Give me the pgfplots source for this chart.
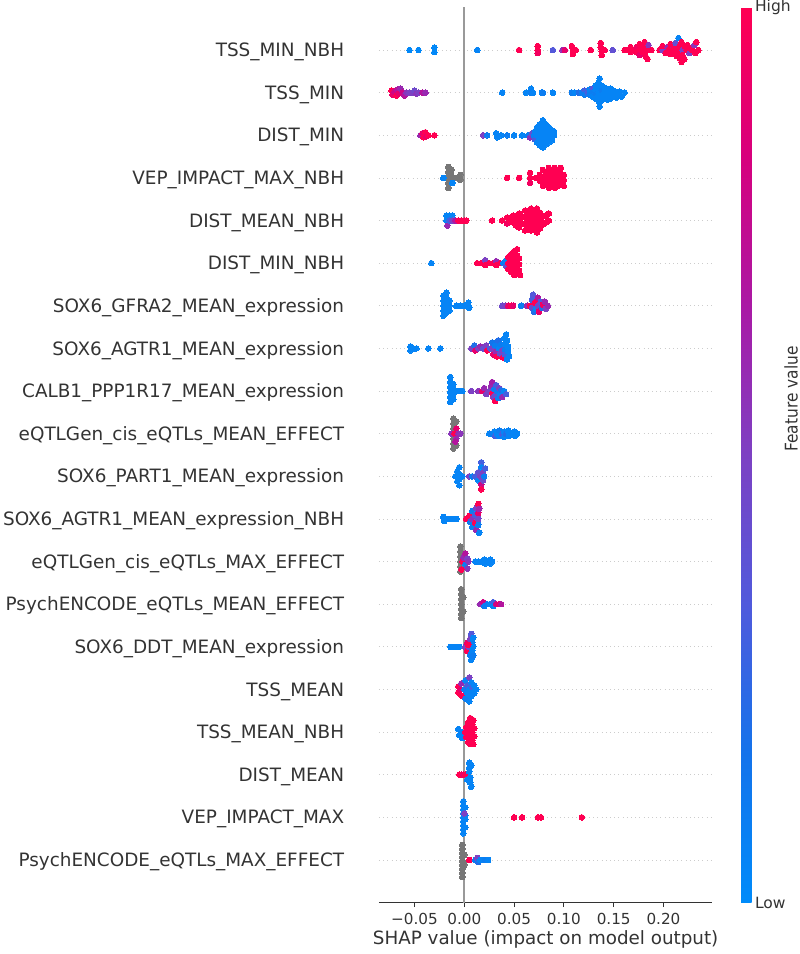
\documentclass[border=0pt]{standalone}
\usepackage{pgfplots}
\pgfplotsset{compat=1.18}
\usepackage{fontspec}
\setmainfont{DejaVu Sans}
\newfontfamily\condfont{DejaVu Sans}[FakeStretch=0.88]
\definecolor{c333}{HTML}{333333}
\definecolor{zline}{HTML}{999999}
\definecolor{gridc}{HTML}{CCCCCC}
\definecolor{nanc}{HTML}{777777}
\pgfplotsset{
 bee/.style={scatter, only marks, mark=*, mark size=2.8pt, point meta=explicit, scatter/use mapped color={draw=mapped color, fill=mapped color, line width=0pt}},
 nanbee/.style={only marks, mark=*, mark size=2.8pt, mark options={draw=nanc, fill=nanc, line width=0pt}},
}
\begin{document}
\begin{tikzpicture}
\path[use as bounding box] (0,0) rectangle (800pt,954pt);
\begin{axis}[
 at={(379pt,51.4pt)}, anchor=south west,
 scale only axis, width=333.3pt, height=895.2pt,
 xmin=-0.0856, xmax=0.249, ymin=-1, ymax=20,
 axis x line*=bottom, axis y line*=left,
 y axis line style={draw=none},
 x axis line style={c333, line width=1.1pt},
 tick align=outside, major tick length=4.5pt,
 xtick={-0.05,0,0.05,0.1,0.15,0.2},
 xticklabels={−0.05,0.00,0.05,0.10,0.15,0.20},
 xtick style={c333, line width=1.1pt},
 ytick={0,...,19},
 ytick style={draw=none},
 yticklabels={PsychENCODE\_eQTLs\_MAX\_EFFECT, VEP\_IMPACT\_MAX, DIST\_MEAN, TSS\_MEAN\_NBH, TSS\_MEAN, SOX6\_DDT\_MEAN\_expression, PsychENCODE\_eQTLs\_MEAN\_EFFECT, eQTLGen\_cis\_eQTLs\_MAX\_EFFECT, SOX6\_AGTR1\_MEAN\_expression\_NBH, SOX6\_PART1\_MEAN\_expression, eQTLGen\_cis\_eQTLs\_MEAN\_EFFECT, CALB1\_PPP1R17\_MEAN\_expression, SOX6\_AGTR1\_MEAN\_expression, SOX6\_GFRA2\_MEAN\_expression, DIST\_MIN\_NBH, DIST\_MEAN\_NBH, VEP\_IMPACT\_MAX\_NBH, DIST\_MIN, TSS\_MIN, TSS\_MIN\_NBH},
 yticklabel style={font=\fontsize{18.4}{21}\selectfont, color=c333, anchor=base east, inner sep=0pt, xshift=-30.2pt, yshift=-6.6pt},
 xticklabel style={font=\fontsize{15.2}{17}\selectfont, color=c333, anchor=base, inner sep=0pt, yshift=-17.6pt},
 xlabel={SHAP value (impact on model output)},
 xlabel style={font=\fontsize{18.3}{21}\selectfont, color=c333, at={(axis description cs:0.5,0)}, anchor=base, inner sep=0pt, yshift=-41.6pt},
 ymajorgrids, major grid style={gridc, line width=0.7pt, dash pattern=on 0.7pt off 3.5pt},
 colormap={shap}{rgb255=(0,139,250) rgb255=(20,115,235) rgb255=(80,90,220) rgb255=(125,65,195) rgb255=(170,25,165) rgb255=(215,0,125) rgb255=(255,0,82)},
 point meta min=0, point meta max=1,
 colorbar,
 colorbar style={width=10.3pt, at={(parent axis.north east)}, anchor=north west, xshift=20.4pt,
   ytick={0,1}, yticklabels={Low,High}, major tick length=0pt, ytick style={draw=none},
   yticklabel style={font=\fontsize{15.5}{17}\selectfont, color=c333},
   axis line style={draw=none}},
]
\addplot[zline, line width=2pt, forget plot] coordinates {(0,-1) (0,20)};
% row 19 TSS_MIN_NBH
\addplot[bee] table[x=x, y expr=19-\thisrow{d}/42.63, meta=c, row sep=\\] {x d c\\
-0.055 0 0.02\\ -0.046 0 0.02\\ -0.030 -2.5 0.02\\ -0.030 2 0.02\\ 0.013 0 0.05\\ 0.055 0 1\\
0.0737 -4 1\\ 0.0737 0 1\\ 0.0737 3 0.95\\ 0.089 0 0.35\\ 0.0985 0 0.6\\ 0.101 0 0.9\\
0.108 -4 1\\ 0.109 0 1\\ 0.109 4 1\\ 0.112 0 1\\ 0.127 0 1\\ 0.137 -7 1\\ 0.137 -3 1\\ 0.138 1 1\\ 0.138 5 1\\ 0.141 0 1\\ 0.149 0 0.4\\
0.161 0 1\\ 0.164 0 1\\ 0.167 -3 1\\ 0.167 2 1\\ 0.170 0 1\\ 0.173 -3 0.95\\ 0.173 2 1\\ 0.176 -6 1\\ 0.176 0 1\\ 0.176 5 0.9\\
0.179 -3 1\\ 0.179 2 1\\ 0.181 -8 1\\ 0.182 -3 1\\ 0.182 2 1\\ 0.182 6 1\\ 0.184 9 1\\ 0.185 0 1\\ 0.185 -5 0.55\\ 0.188 0 1\\
0.196 0 1\\ 0.199 0 0.5\\ 0.199 -4 1\\ 0.202 3 1\\ 0.204 -3 0.6\\ 0.205 0 1\\ 0.207 -6 1\\ 0.207 4 1\\ 0.210 -2 1\\ 0.210 3 1\\
0.212 -7 0.4\\ 0.213 0 1\\ 0.213 6 1\\ 0.215 -12 0.05\\ 0.216 -4 1\\ 0.216 2 1\\ 0.216 8 1\\ 0.218 -8 1\\ 0.218 12 1\\ 0.219 0 0.5\\
0.219 5 1\\ 0.221 -4 1\\ 0.221 9 1\\ 0.223 0 1\\ 0.224 -5 1\\ 0.226 3 0.5\\ 0.227 -2 1\\ 0.229 0 1\\ 0.231 -5 0.55\\ 0.232 3 1\\ 0.233 -8 1\\ 0.235 0 1\\
};
% row 18 TSS_MIN
\addplot[bee] table[x=x, y expr=18-\thisrow{d}/42.63, meta=c, row sep=\\] {x d c\\
-0.073 -2 1\\ -0.072 2 0.9\\ -0.070 -1 0.8\\ -0.068 3 1\\ -0.067 -3 0.7\\ -0.066 1 0.9\\ -0.064 -4 0.6\\ -0.062 0 0.8\\ -0.060 3 0.7\\
-0.058 0 0.55\\ -0.055 0 0.5\\ -0.052 0 0.5\\ -0.050 -2 0.45\\ -0.048 1 0.55\\ -0.046 0 0.5\\ -0.042 0 0.7\\ -0.039 0 0.6\\
0.038 0 0.05\\ 0.062 0 0.05\\ 0.067 -4 0.05\\ 0.067 0 0.1\\ 0.069 0 0.05\\ 0.078 0 0.05\\ 0.079 0 0.1\\ 0.089 0 0.05\\
0.108 0 0.1\\ 0.111 0 0.05\\ 0.115 0 0.2\\ 0.118 0 0.1\\ 0.121 -2 0.3\\ 0.121 2 0.1\\ 0.124 0 0.3\\ 0.126 -3 0.05\\ 0.126 2 0.1\\
0.129 -4 0.35\\ 0.129 0 0.1\\ 0.129 4 0.05\\ 0.132 -7 0.05\\ 0.132 -2 0.05\\ 0.132 2 0.1\\ 0.132 6 0.05\\ 0.135 -10 0.05\\ 0.135 -5 0.05\\
0.135 0 0.05\\ 0.135 5 0.05\\ 0.135 9 0.05\\ 0.136 -14 0.05\\ 0.136 14 0.05\\ 0.138 -7 0.05\\ 0.138 -2 0.1\\ 0.138 3 0.05\\ 0.138 8 0.05\\
0.141 -5 0.05\\ 0.141 0 0.05\\ 0.141 5 0.05\\ 0.144 -3 0.05\\ 0.144 2 0.05\\ 0.144 7 0.05\\ 0.147 -4 0.05\\ 0.147 1 0.05\\ 0.147 6 0.05\\
0.150 -2 0.05\\ 0.150 3 0.05\\ 0.153 0 0.05\\ 0.153 5 0.05\\ 0.156 -1 0.05\\ 0.158 4 0.05\\ 0.161 0 0.05\\
};
% row 17 DIST_MIN
\addplot[bee] table[x=x, y expr=17-\thisrow{d}/42.63, meta=c, row sep=\\] {x d c\\
-0.044 0 0.6\\ -0.042 -2 0.9\\ -0.041 2 1\\ -0.039 -3 1\\ -0.038 1 0.9\\ -0.036 0 1\\ -0.030 0 1\\
0.019 0 0.5\\ 0.023 0 0.1\\ 0.032 -2 0.05\\ 0.033 2 0.05\\ 0.037 0 0.05\\ 0.043 0 0.1\\ 0.050 0 0.05\\ 0.058 0 0.05\\ 0.064 0 0.1\\
0.066 2 0.55\\ 0.068 -2 0.4\\ 0.070 0 0.05\\ 0.071 -4 0.05\\ 0.071 4 0.3\\ 0.073 -8 0.05\\ 0.073 0 0.05\\ 0.073 7 0.05\\
0.076 -11 0.05\\ 0.076 -5 0.05\\ 0.076 0 0.05\\ 0.076 5 0.05\\ 0.076 10 0.05\\ 0.079 -15 0.05\\ 0.079 -8 0.05\\ 0.079 -3 0.05\\
0.079 2 0.05\\ 0.079 7 0.05\\ 0.079 12 0.05\\ 0.082 -11 0.05\\ 0.082 -5 0.05\\ 0.082 0 0.05\\ 0.082 5 0.05\\ 0.082 9 0.05\\
0.085 -8 0.05\\ 0.085 -3 0.05\\ 0.085 2 0.05\\ 0.085 7 0.05\\ 0.088 -5 0.05\\ 0.088 0 0.05\\ 0.088 5 0.05\\ 0.090 0 0.05\\ 0.090 -4 0.05\\
};
% row 16 VEP_IMPACT_MAX_NBH
\addplot[nanbee] table[x=x, y expr=16-\thisrow{d}/42.63, row sep=\\] {x d\\
-0.016 -11\\ -0.016 -6\\ -0.016 0\\ -0.016 5\\ -0.016 10\\ -0.013 -8\\ -0.013 -2\\ -0.013 3\\ -0.010 0\\ -0.004 -3\\ -0.004 2\\
};
\addplot[bee] table[x=x, y expr=16-\thisrow{d}/42.63, meta=c, row sep=\\] {x d c\\
-0.021 0 0.05\\ -0.012 5 0.05\\
0.043 0 1\\ 0.055 0 1\\ 0.066 -5 1\\ 0.066 0 1\\ 0.066 5 0.95\\ 0.072 0 1\\ 0.076 -3 1\\ 0.076 3 1\\ 0.079 -8 1\\ 0.079 0 1\\ 0.079 8 1\\
0.082 -4 1\\ 0.082 4 1\\ 0.085 -10 1\\ 0.085 -5 1\\ 0.085 0 1\\ 0.085 5 1\\ 0.085 10 1\\ 0.088 -8 1\\ 0.088 -3 1\\ 0.088 2 1\\ 0.088 7 1\\
0.091 -10 1\\ 0.091 -5 1\\ 0.091 0 1\\ 0.091 5 1\\ 0.091 10 1\\ 0.094 -7 1\\ 0.094 -2 1\\ 0.094 3 1\\ 0.094 8 1\\
0.097 -10 1\\ 0.097 -4 1\\ 0.097 1 1\\ 0.097 6 1\\ 0.100 -3 1\\ 0.100 2 1\\ 0.100 8 1\\
};
% row 15 DIST_MEAN_NBH
\addplot[bee] table[x=x, y expr=15-\thisrow{d}/42.63, meta=c, row sep=\\] {x d c\\
-0.018 -5 0.05\\ -0.018 0 0.05\\ -0.017 5 0.6\\ -0.015 -5 0.05\\ -0.015 0 0.3\\ -0.012 -5 0.05\\ -0.012 0 0.5\\ -0.009 0 0.7\\ -0.006 0 1\\ -0.003 0 1\\ 0.000 0 1\\ 0.002 0 1\\
0.028 0 1\\ 0.038 0 1\\ 0.043 -3 1\\ 0.043 3 0.95\\ 0.046 0 1\\ 0.049 -5 1\\ 0.049 2 1\\ 0.052 -2 1\\ 0.052 5 1\\ 0.055 -7 1\\ 0.055 0 1\\ 0.055 7 1\\
0.058 -4 1\\ 0.058 3 1\\ 0.061 -10 1\\ 0.061 -3 1\\ 0.061 4 1\\ 0.061 10 1\\ 0.064 -7 1\\ 0.064 0 1\\ 0.064 7 1\\ 0.067 -12 1\\ 0.067 -4 1\\ 0.067 3 1\\ 0.067 10 1\\
0.070 -8 1\\ 0.070 0 1\\ 0.070 8 1\\ 0.073 -12 1\\ 0.073 -4 1\\ 0.073 4 1\\ 0.073 12 1\\ 0.076 -8 1\\ 0.076 0 1\\ 0.076 8 1\\ 0.079 -4 1\\ 0.079 4 1\\
0.082 -5 1\\ 0.082 2 1\\ 0.085 0 1\\ 0.085 -7 1\\
};
% row 14 DIST_MIN_NBH
\addplot[bee] table[x=x, y expr=14-\thisrow{d}/42.63, meta=c, row sep=\\] {x d c\\
-0.033 0 0.05\\ 0.013 0 1\\ 0.017 0 1\\ 0.021 -3 0.5\\ 0.021 2 1\\ 0.025 0 1\\ 0.029 0 1\\ 0.032 -2 0.6\\ 0.032 2 1\\ 0.036 0 1\\
0.039 0 0.1\\ 0.042 -3 0.05\\ 0.042 3 0.4\\ 0.044 -6 1\\ 0.044 0 1\\ 0.044 6 1\\ 0.047 -9 1\\ 0.047 -3 1\\ 0.047 3 1\\ 0.047 9 1\\
0.050 -12 1\\ 0.050 -6 1\\ 0.050 0 1\\ 0.050 6 1\\ 0.050 12 1\\ 0.053 -14 1\\ 0.053 -8 1\\ 0.053 -2 1\\ 0.053 4 1\\ 0.053 10 1\\
0.055 -5 1\\ 0.055 1 1\\ 0.055 7 1\\ 0.056 12 1\\
};
% row 13 SOX6_GFRA2_MEAN_expression
\addplot[bee] table[x=x, y expr=13-\thisrow{d}/42.63, meta=c, row sep=\\] {x d c\\
-0.021 -10 0.05\\ -0.021 -5 0.05\\ -0.021 0 0.05\\ -0.021 5 0.05\\ -0.021 10 0.05\\ -0.018 -13 0.05\\ -0.018 -8 0.05\\ -0.018 -3 0.05\\ -0.018 2 0.05\\ -0.018 7 0.05\\
-0.015 -5 0.05\\ -0.015 0 0.05\\ -0.015 5 0.05\\ -0.008 0 0.05\\ -0.004 0 0.05\\ 0.000 0 0.05\\ 0.004 -3 0.05\\ 0.005 2 0.05\\
0.038 0 0.45\\ 0.041 0 0.5\\ 0.044 0 0.9\\ 0.047 0 1\\ 0.049 0 0.9\\ 0.057 0 0.1\\ 0.063 0 0.6\\ 0.066 0 1\\ 0.068 -6 0.3\\ 0.068 2 0.45\\
0.069 -11 0.35\\ 0.070 6 0.2\\ 0.071 -3 1\\ 0.072 3 0.05\\ 0.074 -8 0.7\\ 0.074 0 0.45\\ 0.075 6 0.9\\ 0.077 -4 0.35\\ 0.078 2 0.2\\ 0.079 -1 0.95\\
0.081 -4 0.6\\ 0.082 3 0.5\\ 0.084 0 0.6\\
};
% row 12 SOX6_AGTR1_MEAN_expression
\addplot[bee] table[x=x, y expr=12-\thisrow{d}/42.63, meta=c, row sep=\\] {x d c\\
-0.054 -2 0.05\\ -0.054 2 0.05\\ -0.051 0 0.05\\ -0.048 0 0.05\\ -0.036 0 0.05\\ -0.024 0 0.05\\
0.007 0 0.5\\ 0.010 -3 0.2\\ 0.011 2 0.9\\ 0.014 0 0.5\\ 0.016 -2 0.6\\ 0.019 0 0.4\\ 0.022 -3 0.5\\ 0.023 2 1\\ 0.026 0 0.3\\
0.028 -6 0.15\\ 0.028 0 0.5\\ 0.029 6 0.9\\ 0.031 -3 0.1\\ 0.032 3 0.6\\ 0.033 8 1\\ 0.034 -8 0.2\\ 0.035 0 0.05\\ 0.036 5 0.4\\
0.037 -4 0.1\\ 0.038 2 0.5\\ 0.039 9 1\\ 0.040 -10 0.05\\ 0.041 -4 0.05\\ 0.041 1 0.1\\ 0.041 6 0.3\\ 0.042 -14 0.05\\ 0.043 -8 0.05\\
0.043 11 0.05\\ 0.044 -2 0.05\\ 0.044 3 0.05\\ 0.045 8 0.05\\
};
% row 11 CALB1_PPP1R17_MEAN_expression
\addplot[bee] table[x=x, y expr=11-\thisrow{d}/42.63, meta=c, row sep=\\] {x d c\\
-0.014 -14 0.05\\ -0.014 -9 0.05\\ -0.014 -4 0.05\\ -0.014 1 0.05\\ -0.014 6 0.05\\ -0.014 11 0.05\\ -0.011 -7 0.05\\ -0.011 -2 0.05\\
-0.011 3 0.05\\ -0.011 8 0.05\\ -0.008 0 0.05\\ -0.005 0 0.05\\ -0.002 0 0.05\\ 0.007 0 0.5\\ 0.014 0 0.55\\
0.018 0 0.9\\ 0.020 -3 0.6\\ 0.022 3 0.5\\ 0.025 0 0.5\\ 0.027 -5 0.6\\ 0.028 -9 0.65\\ 0.028 2 1\\ 0.029 6 0.5\\ 0.030 -2 0.1\\
0.031 10 1\\ 0.031 4 0.4\\ 0.032 -6 0.3\\ 0.033 0 0.1\\ 0.034 7 0.1\\ 0.035 -3 0.5\\ 0.036 3 0.05\\ 0.037 -1 0.2\\ 0.038 6 0.6\\
0.040 0 0.05\\ 0.042 3 0.3\\
};
% row 10 eQTLGen_cis_eQTLs_MEAN_EFFECT
\addplot[nanbee] table[x=x, y expr=10-\thisrow{d}/42.63, row sep=\\] {x d\\
-0.011 -15\\ -0.011 -10\\ -0.011 -5\\ -0.011 5\\ -0.011 10\\ -0.011 15\\ -0.008 -12\\ -0.008 12\\
};
\addplot[bee] table[x=x, y expr=10-\thisrow{d}/42.63, meta=c, row sep=\\] {x d c\\
-0.013 0 0.55\\ -0.010 0 1\\ -0.008 -5 0.9\\ -0.008 5 0.6\\ -0.006 0 0.6\\ -0.004 0 0.55\\ -0.009 8 0.7\\
0.025 0 0.05\\ 0.028 0 0.1\\ 0.030 -2 0.05\\ 0.031 2 0.3\\ 0.033 0 0.05\\ 0.035 -3 0.1\\ 0.035 2 0.05\\ 0.038 0 0.3\\ 0.040 -2 0.05\\
0.040 3 0.05\\ 0.042 0 0.2\\ 0.044 -3 0.05\\ 0.045 2 0.05\\ 0.047 0 0.05\\ 0.050 -2 0.05\\ 0.051 2 0.05\\ 0.053 0 0.05\\
};
% row 9 SOX6_PART1_MEAN_expression
\addplot[bee] table[x=x, y expr=9-\thisrow{d}/42.63, meta=c, row sep=\\] {x d c\\
-0.009 0 0.05\\ -0.007 -5 0.05\\ -0.007 5 0.05\\ -0.005 -9 0.05\\ -0.005 -2 0.05\\ -0.005 3 0.05\\ -0.005 9 0.05\\ -0.002 0 0.05\\
0.005 0 0.5\\ 0.008 0 0.1\\ 0.011 0 0.3\\ 0.014 -4 0.4\\ 0.014 4 0.05\\ 0.016 0 0.5\\ 0.017 -14 0.3\\ 0.017 -9 0.05\\ 0.017 8 0.8\\
0.017 13 1\\ 0.019 -4 0.5\\ 0.019 4 0.45\\ 0.020 0 0.1\\ 0.021 -8 0.3\\
};
% row 8 SOX6_AGTR1_MEAN_expression_NBH
\addplot[bee] table[x=x, y expr=8-\thisrow{d}/42.63, meta=c, row sep=\\] {x d c\\
-0.021 -2 0.05\\ -0.020 2 0.05\\ -0.018 0 0.05\\ -0.015 0 0.05\\ -0.012 0 0.05\\ -0.008 0 0.05\\
0.002 0 1\\ 0.005 -3 1\\ 0.006 3 0.1\\ 0.008 -8 0.1\\ 0.008 0 0.55\\ 0.008 8 0.1\\ 0.011 -4 0.3\\ 0.011 4 1\\ 0.012 -11 0.5\\
0.012 11 0.6\\ 0.014 -15 1\\ 0.014 -6 0.9\\ 0.014 0 0.45\\ 0.014 6 0.1\\ 0.015 14 0.05\\ 0.015 -10 0.6\\
};
% row 7 eQTLGen_cis_eQTLs_MAX_EFFECT
\addplot[nanbee] table[x=x, y expr=7-\thisrow{d}/42.63, row sep=\\] {x d\\
-0.004 -15\\ -0.004 -10\\ -0.004 -5\\ -0.004 0\\ -0.004 5\\ -0.004 10\\
};
\addplot[bee] table[x=x, y expr=7-\thisrow{d}/42.63, meta=c, row sep=\\] {x d c\\
-0.002 0 1\\ -0.001 -4 0.6\\ 0.001 3 0.1\\ 0.001 -8 0.7\\ 0.003 7 0.55\\ 0.003 -3 0.5\\ 0.004 0 0.55\\ -0.003 8 1\\
0.011 0 0.05\\ 0.014 0 0.05\\ 0.017 0 0.05\\ 0.020 -2 0.05\\ 0.021 2 0.05\\ 0.023 0 0.05\\ 0.026 -2 0.05\\ 0.026 2 0.05\\ 0.028 0 0.05\\
};
% row 6 PsychENCODE_eQTLs_MEAN_EFFECT
\addplot[nanbee] table[x=x, y expr=6-\thisrow{d}/42.63, row sep=\\] {x d\\
-0.003 -15\\ -0.003 -10\\ -0.003 -5\\ -0.003 0\\ -0.003 5\\ -0.003 10\\ -0.003 14\\ -0.001 -7\\ -0.001 7\\
};
\addplot[bee] table[x=x, y expr=6-\thisrow{d}/42.63, meta=c, row sep=\\] {x d c\\
0.016 0 0.6\\ 0.019 -2 0.8\\ 0.020 2 0.1\\ 0.023 0 0.1\\ 0.026 0 0.05\\ 0.029 -2 0.3\\ 0.029 2 0.05\\ 0.032 0 0.8\\ 0.035 0 0.9\\ 0.037 0 0.7\\
};
% row 5 SOX6_DDT_MEAN_expression
\addplot[bee] table[x=x, y expr=5-\thisrow{d}/42.63, meta=c, row sep=\\] {x d c\\
-0.014 0 0.05\\ -0.011 0 0.05\\ -0.008 0 0.05\\ -0.005 0 0.05\\
0.001 0 0.5\\ 0.003 -4 0.9\\ 0.003 4 1\\ 0.005 0 0.4\\ 0.006 -8 0.5\\ 0.006 8 0.1\\ 0.007 -13 0.35\\ 0.007 13 0.05\\ 0.008 -4 0.1\\
0.008 4 0.05\\ 0.009 0 0.05\\ 0.009 -9 0.05\\ 0.009 9 0.1\\ 0.004 -2 1\\
};
% row 4 TSS_MEAN
\addplot[bee] table[x=x, y expr=4-\thisrow{d}/42.63, meta=c, row sep=\\] {x d c\\
-0.006 -3 1\\ -0.006 3 1\\ -0.004 0 0.9\\ -0.003 -6 0.6\\ -0.003 6 1\\ 0.000 0 0.1\\ 0.001 -9 0.05\\ 0.001 9 0.1\\ 0.003 -4 0.3\\
0.003 4 0.05\\ 0.005 -12 0.5\\ 0.005 0 0.05\\ 0.005 12 0.05\\ 0.007 -7 0.05\\ 0.007 7 0.05\\ 0.008 -2 0.3\\ 0.008 3 0.05\\
0.010 -4 0.05\\ 0.010 4 0.05\\ 0.012 0 0.05\\
};
% row 3 TSS_MEAN_NBH
\addplot[bee] table[x=x, y expr=3-\thisrow{d}/42.63, meta=c, row sep=\\] {x d c\\
-0.006 -3 0.05\\ -0.005 3 0.05\\ -0.003 0 0.05\\ -0.002 6 0.05\\ 0.001 0 1\\ 0.002 -5 1\\ 0.002 5 1\\ 0.004 -10 1\\ 0.004 0 1\\
0.004 10 1\\ 0.006 -14 1\\ 0.006 -5 1\\ 0.006 5 1\\ 0.006 12 1\\ 0.008 -8 1\\ 0.008 0 1\\ 0.008 8 1\\ 0.010 -4 1\\ 0.010 4 1\\
0.009 -12 1\\ 0.009 12 1\\
};
% row 2 DIST_MEAN
\addplot[bee] table[x=x, y expr=2-\thisrow{d}/42.63, meta=c, row sep=\\] {x d c\\
-0.005 0 1\\ -0.003 0 1\\ -0.001 0 0.9\\ 0.001 0 1\\ 0.003 0 1\\ 0.005 -12 0.05\\ 0.005 -7 0.05\\ 0.005 -3 0.05\\ 0.006 3 0.05\\
0.006 8 0.05\\ 0.007 12 0.05\\ 0.007 -9 0.05\\ 0.003 5 0.05\\
};
% row 1 VEP_IMPACT_MAX
\addplot[bee] table[x=x, y expr=1-\thisrow{d}/42.63, meta=c, row sep=\\] {x d c\\
-0.001 -16 0.05\\ -0.001 -12 0.05\\ -0.001 -8 0.05\\ -0.001 -4 0.05\\ -0.001 0 0.05\\ -0.001 4 0.05\\ -0.001 8 0.05\\ -0.001 12 0.05\\
-0.001 16 0.05\\ 0.001 -10 0.05\\ 0.001 10 0.05\\ 0.001 -2 0.05\\ 0.001 2 0.05\\ 0.000 -4 0.5\\
0.050 0 1\\ 0.058 0 1\\ 0.074 0 1\\ 0.077 0 1\\ 0.118 0 1\\
};
% row 0 PsychENCODE_eQTLs_MAX_EFFECT
\addplot[nanbee] table[x=x, y expr=0-\thisrow{d}/42.63, row sep=\\] {x d\\
-0.002 -15\\ -0.002 -11\\ -0.002 -7\\ -0.002 -3\\ -0.002 1\\ -0.002 5\\ -0.002 9\\ -0.002 13\\ -0.002 17\\ 0.000 -5\\ 0.000 5\\
};
\addplot[bee] table[x=x, y expr=0-\thisrow{d}/42.63, meta=c, row sep=\\] {x d c\\
0.005 0 1\\ 0.011 0 0.1\\ 0.013 -2 0.5\\ 0.014 2 0.2\\ 0.016 0 0.05\\ 0.019 0 0.05\\ 0.021 0 0.1\\ 0.024 0 0.05\\
};
\end{axis}
\node[rotate=90, inner sep=0pt, font=\condfont\fontsize{17.5}{19}\selectfont, text=c333] at (791pt,555pt) {Feature value};
\end{tikzpicture}
\end{document}
